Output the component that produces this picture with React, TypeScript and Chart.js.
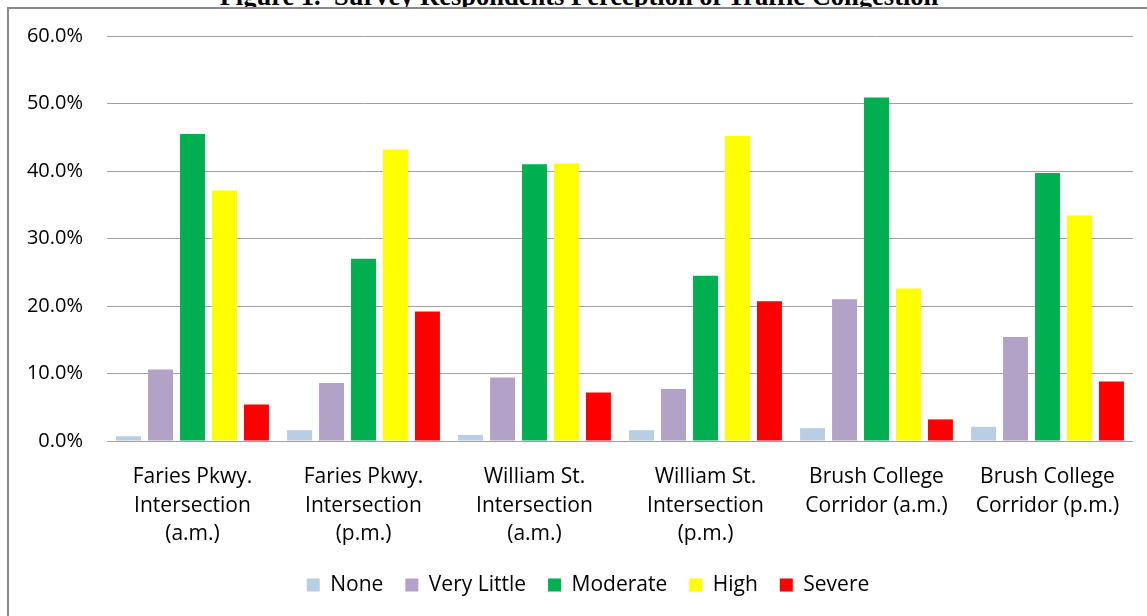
import React, { useEffect, useRef } from 'react';
import { Chart, registerables } from 'chart.js';

Chart.register(...registerables);

const titleText = 'Figure 1.  Survey Respondents Perception of Traffic Congestion';

const categories: string[][] = [
  ['Faries Pkwy.', 'Intersection', '(a.m.)'],
  ['Faries Pkwy.', 'Intersection', '(p.m.)'],
  ['William St.', 'Intersection', '(a.m.)'],
  ['William St.', 'Intersection', '(p.m.)'],
  ['Brush College', 'Corridor (a.m.)'],
  ['Brush College', 'Corridor (p.m.)'],
];

const seriesNames = ['None', 'Very Little', 'Moderate', 'High', 'Severe'];
const seriesColors = ['#B9CDE5', '#B3A2C7', '#00B050', '#FFFF00', '#FF0000'];

const noneValues = [0.7, 1.6, 0.9, 1.6, 1.9, 2.1];
const veryLittleValues = [10.6, 8.6, 9.4, 7.7, 21.0, 15.4];
const moderateValues = [45.5, 27.0, 41.0, 24.5, 50.9, 39.7];
const highValues = [37.1, 43.2, 41.1, 45.2, 22.6, 33.4];
const severeValues = [5.4, 19.2, 7.2, 20.7, 3.2, 8.8];

const yMin = 0;
const yMax = 60;
const yStep = 10;

const seriesValues = [noneValues, veryLittleValues, moderateValues, highValues, severeValues];

const FONT = "'Open Sans', sans-serif";

export default function App() {
  const canvasRef = useRef<HTMLCanvasElement | null>(null);

  useEffect(() => {
    const canvas = canvasRef.current;
    if (!canvas) return;
    const chart = new Chart(canvas, {
      type: 'bar',
      data: {
        labels: categories,
        datasets: seriesNames.map((name, i) => ({
          label: name,
          data: seriesValues[i],
          backgroundColor: seriesColors[i],
          borderWidth: 0,
          categoryPercentage: 0.935,
          barPercentage: 0.78,
          yAxisID: 'y',
        })),
      },
      options: {
        responsive: false,
        animation: false,
        devicePixelRatio: 1,
        layout: { padding: { top: 27, left: 0, right: 0, bottom: 23.5 } },
        plugins: {
          title: { display: false },
          tooltip: { enabled: false },
          legend: {
            display: true,
            position: 'bottom',
            labels: {
              boxWidth: 13,
              boxHeight: 13,
              padding: 22,
              color: '#000',
              font: { family: FONT, size: 21 },
            },
          },
        },
        scales: {
          x: {
            grid: { display: false, drawTicks: false },
            border: { display: false },
            ticks: {
              color: '#000',
              font: { family: FONT, size: 21, lineHeight: 1.36 },
              padding: 22,
              maxRotation: 0,
              autoSkip: false,
            },
            afterFit: (scale: any) => {
              scale.height = 111.5;
            },
          },
          y: {
            min: yMin,
            max: yMax,
            grid: { color: '#A0A0A0', lineWidth: 1, drawTicks: false },
            border: { display: false },
            ticks: {
              stepSize: yStep,
              color: '#000',
              font: { family: FONT, size: 20 },
              padding: 24,
              callback: (v: any) => Number(v).toFixed(1) + '%',
            },
            afterFit: (scale: any) => {
              scale.width = 98;
              scale.paddingTop = 0;
              scale.paddingBottom = 0;
            },
          },
          yRight: {
            position: 'right',
            display: true,
            grid: { display: false, drawTicks: false },
            border: { display: false },
            ticks: { display: false },
            afterFit: (scale: any) => {
              scale.width = 34;
              scale.paddingTop = 0;
              scale.paddingBottom = 0;
            },
          },
        },
      },
    });
    return () => chart.destroy();
  }, []);

  return (
    <div style={{ position: 'fixed', inset: 0, overflow: 'hidden', background: '#fff' }}>
      <div
        style={{
          position: 'absolute',
          left: 0,
          top: -17,
          width: 1158,
          textAlign: 'center',
          fontFamily: "'Liberation Serif', 'Times New Roman', serif",
          fontWeight: 'bold',
          fontSize: 26.5,
          lineHeight: '26.5px',
          whiteSpace: 'pre',
          color: '#000',
        }}
      >
        {titleText}
      </div>
      <div
        style={{
          position: 'absolute',
          left: 7,
          top: 7,
          width: 1158,
          height: 620,
          border: '2px solid #8a8a8a',
          background: '#fff',
        }}
      >
        <canvas ref={canvasRef} width={1158} height={620} style={{ display: 'block', width: 1158, height: 620 }} />
      </div>
    </div>
  );
}
